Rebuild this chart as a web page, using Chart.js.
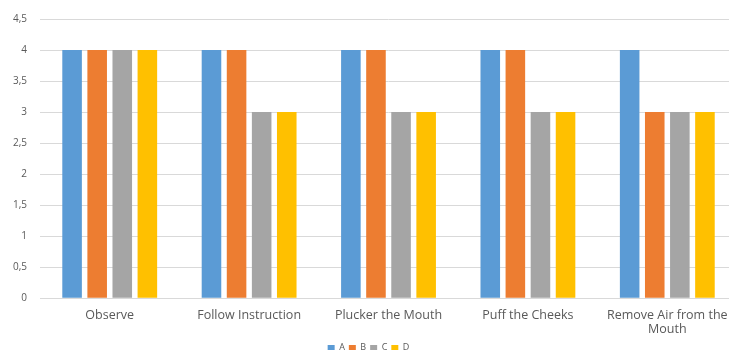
<!DOCTYPE html>
<html lang="en">
<head>
  <meta charset="UTF-8" />
  <title>Bar chart A-D</title>
  <script src="https://cdn.jsdelivr.net/npm/chart.js"></script>
  <style>
    * { margin: 0; padding: 0; box-sizing: border-box; }
    body { background: #ffffff; width: 729px; height: 352px; overflow: hidden; }
    /* the reference is cropped on the right, so the chart is a bit wider than the window */
    #wrap { width: 737px; height: 352px; position: relative; }
  </style>
</head>
<body>
  <div id="wrap"><canvas id="grafico"></canvas></div>

  <script>
    // Data
    const categorias = ['Observe', 'Follow Instruction', 'Plucker the Mouth', 'Puff the Cheeks', ['Remove Air from the', 'Mouth']];
    const serieA = [4, 4, 4, 4, 4];
    const serieB = [4, 4, 4, 4, 3];
    const serieC = [4, 3, 3, 3, 3];
    const serieD = [4, 3, 3, 3, 3];
    const yMax = 4.5;
    const yStep = 0.5;

    const fonte = "'Open Sans', 'Liberation Sans', sans-serif";

    function serie(label, data, cor) {
      return {
        label: label,
        data: data,
        backgroundColor: cor,
        borderWidth: 0,
        categoryPercentage: 0.72,
        barPercentage: 0.78,
      };
    }

    new Chart(document.getElementById('grafico'), {
      type: 'bar',
      data: {
        labels: categorias,
        datasets: [
          serie('A', serieA, '#5b9bd5'),
          serie('B', serieB, '#ed7d31'),
          serie('C', serieC, '#a5a5a5'),
          serie('D', serieD, '#ffc000'),
        ],
      },
      options: {
        responsive: true,
        maintainAspectRatio: false,
        animation: false,
        // negative padding: the reference is tightly cropped at top and bottom
        layout: { padding: { top: -6, right: 0, bottom: -10, left: 0 } },
        plugins: {
          legend: {
            position: 'bottom',
            labels: {
              boxWidth: 7,
              boxHeight: 5,
              padding: 4,
              color: '#595959',
              font: { family: fonte, size: 9 },
            },
          },
          tooltip: { enabled: false },
        },
        scales: {
          x: {
            grid: { display: false },
            border: { color: '#d9d9d9' },
            ticks: {
              color: '#595959',
              font: { family: fonte, size: 12.5, lineHeight: 1.15 },
              maxRotation: 0,
              autoSkip: false,
              padding: 2,
            },
          },
          y: {
            min: 0,
            max: yMax,
            border: { display: false },
            grid: { color: '#d9d9d9', drawTicks: false },
            ticks: {
              stepSize: yStep,
              padding: 13,
              color: '#595959',
              font: { family: fonte, size: 10 },
              callback: (v) => String(v).replace('.', ','),
            },
          },
        },
      },
    });
  </script>
</body>
</html>
